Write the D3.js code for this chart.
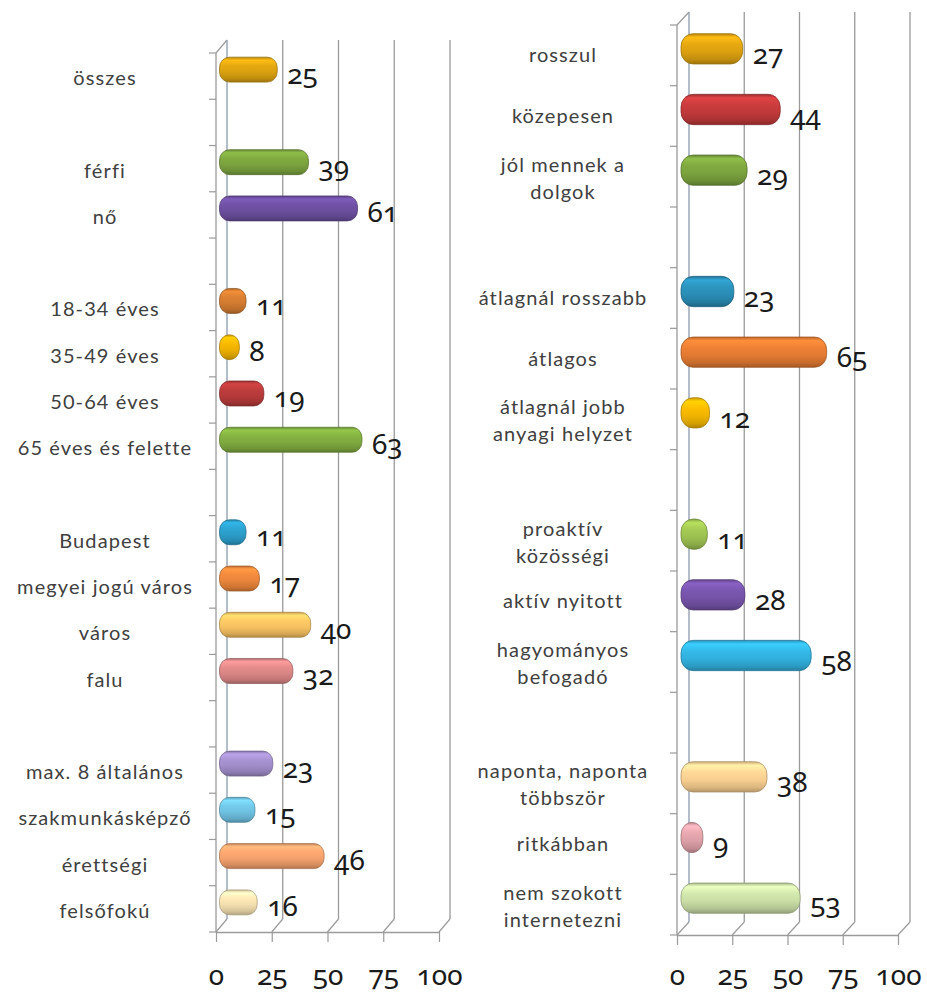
<!DOCTYPE html>
<html><head><meta charset="utf-8">
<script src="https://cdn.jsdelivr.net/npm/d3@7"></script>
<style>
body{margin:0;background:#fff;}
svg{display:block;}
.cat{font-family:Lato,'Noto Sans',sans-serif;font-size:20px;letter-spacing:1.1px;fill:#404040;}
.num{font-family:'Noto Sans','Open Sans',sans-serif;font-size:28px;fill:#1a1a1a;font-variant-numeric:oldstyle-nums;font-feature-settings:"onum" 1;}
</style></head><body>
<svg id="chart" width="927" height="996"></svg>
<script>
const leftCategories = ["összes", "", "férfi", "nő", "", "18-34 éves", "35-49 éves", "50-64 éves", "65 éves és felette", "", "Budapest", "megyei jogú város", "város", "falu", "", "max. 8 általános", "szakmunkásképző", "érettségi", "felsőfokú"];
const leftValues = [25, null, 39, 61, null, 11, 8, 19, 63, null, 11, 17, 40, 32, null, 23, 15, 46, 16];
const leftColors = ["#D9A010", null, "#7AA23E", "#6B4E9E", null, "#D07A30", "#EDB000", "#B53A3A", "#7FAA3F", null, "#2B9CC8", "#E8843A", "#F5C060", "#D98585", null, "#A08CC8", "#6EC0E0", "#F4A06C", "#F2DEAE"];

const rightCategories = ["rosszul", "közepesen", "jól mennek a\ndolgok", "", "átlagnál rosszabb", "átlagos", "átlagnál jobb\nanyagi helyzet", "", "proaktív\nközösségi", "aktív nyitott", "hagyományos\nbefogadó", "", "naponta, naponta\ntöbbször", "ritkábban", "nem szokott\ninternetezni"];
const rightValues = [27, 44, 29, null, 23, 65, 12, null, 11, 28, 58, null, 38, 9, 53];
const rightColors = ["#DBA010", "#C0393A", "#7AA23E", null, "#2A8DB5", "#E27A32", "#F0B400", null, "#9CC050", "#7553A8", "#31B0DD", null, "#F8CE90", "#DDA0A8", "#C9DDA5"];

const tickValues = [0, 25, 50, 75, 100];

const svg = d3.select("#chart");
const defs = svg.append("defs");

function drawPanel(id, cats, vals, cols, L) {
  const g = svg.append("g");
  const x = d3.scaleLinear().domain([0, 100]).range([L.x0, L.x1]);
  const y = d3.scaleBand().domain(d3.range(cats.length)).range([L.yTop, L.yBot]);
  const step = y.step();

  // back wall gridlines
  g.selectAll(".grid").data(tickValues).join("line")
    .attr("x1", d => x(d) + L.dx).attr("x2", d => x(d) + L.dx)
    .attr("y1", L.yTop + L.dy).attr("y2", L.yBot + L.dy)
    .attr("stroke", (d, i) => i === 0 ? "#8c99ad" : "#9a9a9a").attr("stroke-width", 1.3);

  // floor diagonals
  g.selectAll(".diag").data(tickValues).join("line")
    .attr("x1", d => x(d)).attr("y1", L.yBot)
    .attr("x2", d => x(d) + L.dx).attr("y2", L.yBot + L.dy)
    .attr("stroke", "#9a9a9a").attr("stroke-width", 1.2);

  // bottom axis (front floor edge)
  const ax = g.append("g").attr("transform", `translate(0,${L.yBot})`)
    .call(d3.axisBottom(x).tickValues(tickValues).tickSize(10).tickSizeOuter(0));
  ax.attr("font-size", null).attr("font-family", null);
  ax.select(".domain").attr("stroke", "#9a9a9a").attr("stroke-width", 1.3);
  ax.selectAll(".tick line").attr("stroke", "#9a9a9a").attr("stroke-width", 1.2);
  ax.selectAll(".tick text").attr("class", "num").attr("dy", null)
    .attr("y", L.tickBaseline - L.yBot).attr("fill", null);

  // front vertical axis with category boundary ticks
  g.append("line").attr("x1", L.x0).attr("x2", L.x0).attr("y1", L.yTop).attr("y2", L.yBot)
    .attr("stroke", "#9a9a9a").attr("stroke-width", 1.3);
  g.append("line").attr("x1", L.x0).attr("y1", L.yTop).attr("x2", L.x0 + L.dx).attr("y2", L.yTop + L.dy)
    .attr("stroke", "#9a9a9a").attr("stroke-width", 1.2);
  g.selectAll(".ytick").data(d3.range(cats.length + 1)).join("line")
    .attr("x1", L.x0 - 7).attr("x2", L.x0)
    .attr("y1", i => L.yTop + i * step).attr("y2", i => L.yTop + i * step)
    .attr("stroke", "#9a9a9a").attr("stroke-width", 1.2);

  // category labels
  cats.forEach((c, i) => {
    if (!c) return;
    const lines = c.split("\n");
    const cy = y(i) + y.bandwidth() / 2;
    const t = g.append("text").attr("class", "cat").attr("text-anchor", "middle");
    lines.forEach((ln, k) => {
      t.append("tspan").attr("x", L.labelX)
        .attr("y", lines.length === 1 ? cy + L.singleDy : cy + L.multiDy[k])
        .text(ln);
    });
  });

  // bars
  const bh = step * L.barFrac;
  const data = vals.map((v, i) => ({ v, i, c: cols[i] })).filter(d => d.v != null);
  data.forEach(d => {
    const base = d3.color(d.c);
    const gr = defs.append("linearGradient").attr("id", `${id}-g${d.i}`)
      .attr("x1", 0).attr("y1", 0).attr("x2", 0).attr("y2", 1);
    [[0, base.darker(0.5)], [0.12, base.brighter(0.45)], [0.35, base.brighter(0.15)], [0.6, base], [0.85, base.darker(0.35)], [1, base.darker(0.9)]]
      .forEach(([o, col]) => gr.append("stop").attr("offset", o).attr("stop-color", col.formatHex()));
  });
  g.selectAll(".bar").data(data).join("rect")
    .attr("x", d => x(0) + L.dx / 2 - 2)
    .attr("y", d => y(d.i) + y.bandwidth() / 2 + L.dy / 2 - bh / 2)
    .attr("width", d => x(d.v) - x(0) + 2)
    .attr("height", bh)
    .attr("rx", bh * 0.4).attr("ry", bh * 0.42)
    .attr("fill", d => `url(#${id}-g${d.i})`)
    .attr("stroke", d => d3.color(d.c).darker(1.1).formatHex())
    .attr("stroke-width", 0.9).attr("stroke-opacity", 0.8);

  // value labels
  g.selectAll(".val").data(data).join("text")
    .attr("class", "num")
    .attr("x", d => x(d.v) + L.dx / 2 + 10)
    .attr("y", d => y(d.i) + y.bandwidth() / 2 + L.dy / 2 + L.numDy)
    .text(d => d.v);
}

drawPanel("L", leftCategories, leftValues, leftColors,
  { x0: 216, x1: 439, yTop: 53, yBot: 932, dx: 11, dy: -13, labelX: 105, singleDy: 9, multiDy: [-5, 22], barFrac: 0.54, numDy: 14, tickBaseline: 985 });
drawPanel("R", rightCategories, rightValues, rightColors,
  { x0: 677, x1: 898, yTop: 25, yBot: 935, dx: 12, dy: -13, labelX: 563, singleDy: 7, multiDy: [-5, 22], barFrac: 0.5, numDy: 15, tickBaseline: 985 });
</script>
</body></html>
